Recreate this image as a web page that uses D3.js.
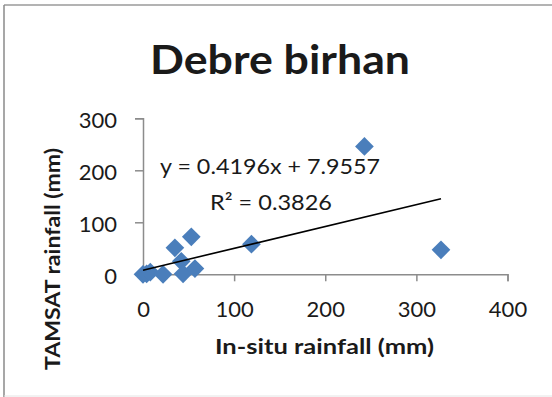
<!DOCTYPE html>
<html>
<head>
<meta charset="utf-8">
<script src="https://cdn.jsdelivr.net/npm/d3@7"></script>
<style>
  html, body { margin: 0; padding: 0; background: #fff; }
  svg { display: block; }
  text { font-family: Lato, "Open Sans", sans-serif; fill: #1a1a1a; }
</style>
</head>
<body>
<svg id="chart" width="552" height="397"></svg>
<script>
// Monthly rainfall at Debre birhan: gauge (in-situ) vs TAMSAT estimate, mm
const insitu = [0, 4, 8, 22, 35, 42, 44, 57, 53, 119, 243, 327];
const tamsat = [0, 1, 4, 0, 51, 25, 1, 11, 72, 58, 246, 47];

const xTicks = [0, 100, 200, 300, 400];
const yTicks = [0, 100, 200, 300];

// Linear trendline y = slope * x + intercept
const slope = 0.4196;
const intercept = 7.9557;
const rSquared = 0.3826;

const title = "Debre birhan";
const xTitle = "In-situ rainfall (mm)";
const yTitle = "TAMSAT rainfall (mm)";

const svg = d3.select("#chart");

// Chart frame
svg.append("line").attr("x1", 4).attr("x2", 552).attr("y1", 5).attr("y2", 5)
  .attr("stroke", "#9a9a9a").attr("stroke-width", 1.5);
svg.append("line").attr("x1", 4).attr("x2", 4).attr("y1", 5).attr("y2", 397)
  .attr("stroke", "#8a8a8a").attr("stroke-width", 1.5);
svg.append("line").attr("x1", 4).attr("x2", 552).attr("y1", 396).attr("y2", 396)
  .attr("stroke", "#e4e4e4").attr("stroke-width", 1);

const x = d3.scaleLinear().domain([0, 400]).range([143, 507.5]);
const y = d3.scaleLinear().domain([0, 300]).range([274.3, 118.3]);

const axisColor = "#8c8c8c";

// Y axis
const gy = svg.append("g").attr("transform", `translate(${x(0)},0)`)
  .call(d3.axisLeft(y).tickValues(yTicks).tickSize(8).tickPadding(18).tickFormat(d3.format("d")));
gy.select(".domain").attr("stroke", axisColor).attr("stroke-width", 1.5);
gy.selectAll(".tick line").attr("stroke", axisColor).attr("stroke-width", 1.5);
gy.selectAll(".tick text").attr("font-size", 22).attr("font-family", "Lato").attr("fill", "#1a1a1a").attr("dy", "0.42em");

// X axis
const gx = svg.append("g").attr("transform", `translate(0,${y(0)})`)
  .call(d3.axisBottom(x).tickValues(xTicks).tickSize(7).tickPadding(20).tickFormat(d3.format("d")));
gx.select(".domain").attr("stroke", axisColor).attr("stroke-width", 1.5);
gx.selectAll(".tick line").attr("stroke", axisColor).attr("stroke-width", 1.5);
gx.selectAll(".tick text").attr("font-size", 22).attr("font-family", "Lato").attr("fill", "#1a1a1a");

// Data points as diamonds
const diamond = d3.symbol().type(d3.symbolSquare).size(175);
svg.append("g").selectAll("path")
  .data(insitu.map((v, i) => [v, tamsat[i]]))
  .join("path")
  .attr("d", diamond)
  .attr("transform", d => `translate(${x(d[0])},${y(d[1])}) rotate(45)`)
  .attr("fill", "#4a7ebb");

// Trendline across the range of observed in-situ values
const xMin = d3.min(insitu), xMax = d3.max(insitu);
svg.append("line")
  .attr("x1", x(xMin)).attr("y1", y(slope * xMin + intercept))
  .attr("x2", x(xMax)).attr("y2", y(slope * xMax + intercept))
  .attr("stroke", "#000").attr("stroke-width", 1.6);

// Trendline label
svg.append("text").attr("x", 160).attr("y", 174).attr("font-size", 22)
  .attr("textLength", 220).attr("lengthAdjust", "spacingAndGlyphs")
  .text(`y = ${slope}x + ${intercept}`);
svg.append("text").attr("x", 210).attr("y", 210).attr("font-size", 22)
  .attr("textLength", 122).attr("lengthAdjust", "spacingAndGlyphs")
  .text(`R² = ${rSquared}`);

// Titles
svg.append("text").attr("x", 150).attr("y", 74)
  .attr("font-size", 40).attr("font-weight", "bold")
  .attr("textLength", 260).attr("lengthAdjust", "spacingAndGlyphs").text(title);
svg.append("text").attr("x", 215).attr("y", 354)
  .attr("font-size", 21).attr("font-weight", "bold")
  .attr("textLength", 219).attr("lengthAdjust", "spacingAndGlyphs").text(xTitle);
svg.append("text").attr("transform", "translate(60,370) rotate(-90)")
  .attr("font-size", 21).attr("font-weight", "bold")
  .attr("textLength", 222).attr("lengthAdjust", "spacingAndGlyphs").text(yTitle);
</script>
</body>
</html>
